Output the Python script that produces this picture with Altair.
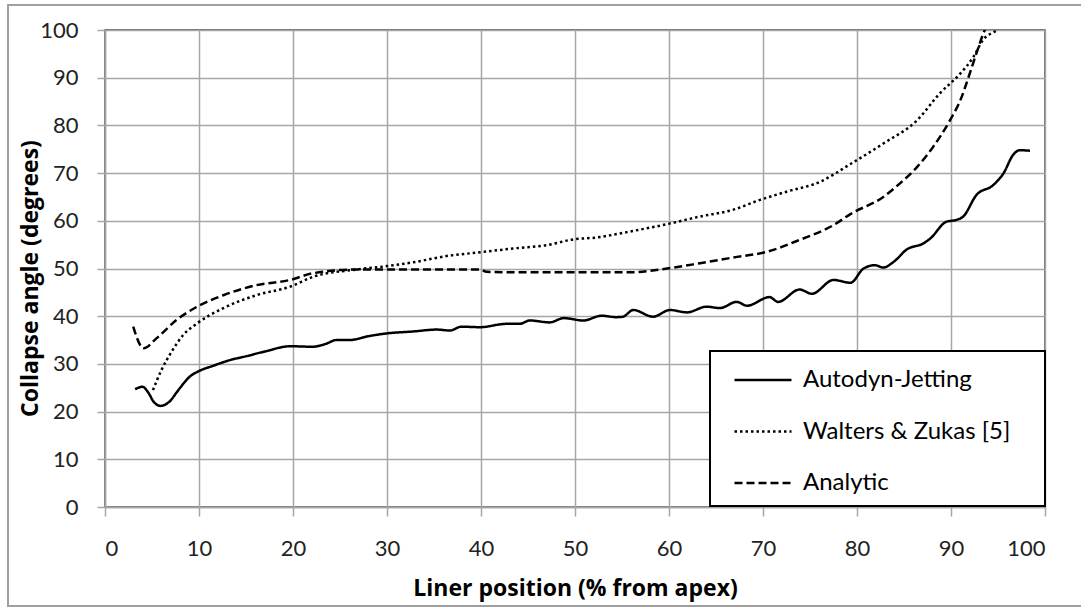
import altair as alt
import pandas as pd

# ---- data ----
auto_x = [3.2, 4.0, 4.6, 5.2, 5.9, 6.8, 7.8, 9.0, 10.0, 11.5, 13.3, 15.0, 17.0, 19.7, 22.1, 23.5,
          24.6, 26.0, 28.0, 30.0, 32.8, 35.3, 36.7, 37.9, 39.9, 42.7, 44.1, 45.2, 47.3, 48.8, 50.9,
          52.8, 54.4, 55.1, 56.2, 58.3, 60.1, 61.9, 64.0, 65.4, 67.2, 68.3, 70.7, 71.6, 73.9, 75.2,
          77.5, 79.3, 80.7, 81.9, 82.8, 83.9, 85.3, 87.1, 87.8, 89.5, 90.6, 91.3, 92.7, 94.5, 95.6,
          96.6, 97.3, 98.4]
auto_y = [24.7, 25.2, 24.0, 22.0, 21.2, 22.0, 24.5, 27.3, 28.5, 29.6, 30.8, 31.6, 32.6, 33.7, 33.6, 34.2,
          35.0, 35.0, 35.8, 36.4, 36.8, 37.2, 37.0, 37.8, 37.7, 38.4, 38.4, 39.1, 38.7, 39.6, 39.1,
          40.1, 39.8, 39.9, 41.3, 39.9, 41.3, 40.8, 42.0, 41.7, 43.0, 42.2, 44.0, 43.0, 45.6, 44.7,
          47.6, 47.0, 50.0, 50.7, 50.2, 51.4, 54.0, 55.3, 56.3, 59.8, 60.2, 60.9, 65.4, 67.5, 70.0,
          73.8, 74.8, 74.7]

wz_x = [5.1, 6.0, 7.1, 8.3, 9.8, 12.6, 16.1, 19.7, 22.2, 26.8, 30.0, 32.8, 36.3, 39.9, 43.4, 47.0,
        49.8, 52.3, 55.7, 59.8, 63.3, 66.8, 69.7, 72.5, 76.1, 79.3, 82.8, 86.4, 88.8, 91.0, 92.4,
        93.4, 94.9, 95.5]
wz_y = [24.5, 28.7, 32.6, 36.0, 38.5, 41.7, 44.4, 46.2, 48.3, 49.8, 50.5, 51.3, 52.6, 53.4, 54.2, 54.9,
        56.1, 56.5, 57.7, 59.3, 60.9, 62.3, 64.4, 66.1, 68.2, 71.9, 76.2, 81.1, 86.7, 90.9, 94.4,
        97.9, 100.0, 101.0]

an_x = [3.0, 4.1, 5.5, 7.6, 9.8, 12.6, 16.1, 19.7, 22.1, 26.8, 30.0, 35.0, 39.9, 40.6, 45.0, 50.0,
        55.9, 59.8, 63.3, 66.8, 70.4, 73.9, 77.5, 79.3, 82.8, 84.6, 86.4, 88.1, 89.9, 91.0, 92.0,
        92.7, 93.6, 94.0]
an_y = [37.8, 33.3, 35.4, 39.2, 42.0, 44.4, 46.5, 47.6, 49.0, 49.8, 49.8, 49.8, 49.8, 49.3, 49.2, 49.2,
        49.2, 50.0, 51.1, 52.3, 53.5, 56.0, 59.1, 61.4, 65.0, 67.9, 71.3, 75.5, 81.1, 85.3, 90.9,
        95.1, 100.0, 101.5]

series_names = ["Autodyn-Jetting", "Walters & Zukas [5]", "Analytic"]
x_ticks = list(range(0, 101, 10))
y_ticks = list(range(0, 101, 10))

frames = []
for name, xs, ys in zip(series_names, [auto_x, wz_x, an_x], [auto_y, wz_y, an_y]):
    frames.append(pd.DataFrame({"x": xs, "y": ys, "series": name, "order": range(len(xs))}))
df = pd.concat(frames, ignore_index=True)

FONT = "Lato"
TITLE_FONT = "Open Sans"
GRID = "#a6a6a6"

lines = alt.Chart(df).mark_line(
    clip=True, color="black", strokeWidth=2.5, interpolate="monotone"
).encode(
    x=alt.X("x:Q", scale=alt.Scale(domain=[0, 100], nice=False),
            axis=alt.Axis(values=x_ticks, title="Liner position (% from apex)",
                          titleY=81, titleBaseline="middle")),
    y=alt.Y("y:Q", scale=alt.Scale(domain=[0, 100], nice=False),
            axis=alt.Axis(values=y_ticks, title="Collapse angle (degrees)",
                          titleX=-75, titleY=248, titleBaseline="middle", titleAlign="center")),
    strokeDash=alt.StrokeDash(
        "series:N",
        scale=alt.Scale(domain=series_names, range=[[1, 0], [2.5, 3], [8, 4]]),
        legend=alt.Legend(
            title=None, orient="none", legendX=628, legendY=320,
            symbolType="stroke", symbolSize=3249, symbolStrokeWidth=2.5,
            symbolStrokeColor="black", labelFontSize=24, labelFont=FONT,
            labelColor="black", labelOffset=10, rowPadding=9.5, padding=0,
            labelLimit=400,
        ),
    ),
    detail="series:N",
    order="order:Q",
)

# white legend box (decoration behind the legend entries)
legend_box = alt.Chart(df).mark_rect(fill="white", stroke="black", strokeWidth=2).encode(
    x=alt.value(605), x2=alt.value(940), y=alt.value(321), y2=alt.value(476)
)

frame = alt.Chart(df).mark_rect(fill=None, stroke="#a0a0a0", strokeWidth=2).encode(
    x=alt.value(-97), x2=alt.value(990), y=alt.value(-25), y2=alt.value(576)
)

chart = alt.layer(frame, lines, legend_box).properties(
    width=940, height=477,
    padding={"left": 105, "top": 30, "right": 36, "bottom": 101},
    autosize="none",
).configure_view(
    stroke="#404040", strokeWidth=1.5
).configure_axis(
    grid=True, gridColor=GRID, gridWidth=1.5, domainColor=GRID, domainWidth=1.5,
    tickColor=GRID, tickWidth=1.5, tickSize=9,
    labelFont=FONT, labelFontSize=22, labelColor="#222222",
    titleFont=TITLE_FONT, titleFontSize=23, titleFontWeight="bold", titleColor="black",
).configure_axisY(
    labelPadding=19, tickSize=8
).configure_axisX(
    labelPadding=22
)

chart.save("out.html", embed_options={"renderer": "svg", "actions": False})
